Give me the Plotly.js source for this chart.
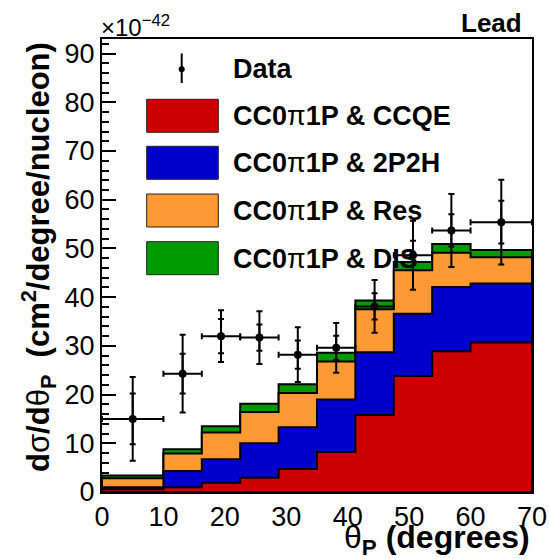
<!DOCTYPE html>
<html>
<head>
<meta charset="utf-8">
<script src="https://cdn.plot.ly/plotly-3.0.1.min.js"></script>
<style>
html,body{margin:0;padding:0;background:#fff;}
#chart{width:549px;height:559px;}
</style>
</head>
<body>
<div id="chart"></div>
<script>
// ---- data (units of 1e-42 cm^2/degree/nucleon) ----
const binEdges = [0, 10, 16.25, 22.5, 28.75, 35, 41.25, 47.5, 53.75, 60, 70];
const ccqe   = [0.55, 1.0, 1.9, 2.95, 4.7, 8.2, 15.8, 23.8, 28.9, 30.7];
const twoP2H = [0.45, 3.3, 4.8, 7.05, 8.6, 10.8, 12.9, 12.8, 13.2, 12.1];
const res    = [1.8, 3.6, 5.5, 6.4, 7.0, 7.8, 8.8, 8.9, 7.0, 5.4];
const dis    = [0.6, 0.9, 1.3, 1.7, 1.8, 1.8, 1.8, 1.7, 1.8, 1.5];
const dataY    = [15.0, 24.3, 32.0, 31.7, 28.2, 29.6, 38.1, 48.6, 53.7, 55.4];
const totalErr = [8.6, 8.0, 5.3, 5.4, 5.6, 5.1, 5.4, 7.1, 7.5, 8.7];
const statErr  = [5.2, 4.1, 3.5, 2.7, 2.9, 2.5, 2.7, 3.0, 3.3, 4.4];
const seriesNames = ["CC0π1P & CCQE", "CC0π1P & 2P2H", "CC0π1P & Res", "CC0π1P & DIS"];
const seriesColors = ["#cc0000", "#0000cc", "#ff9933", "#009900"];
const yTickVals = [0, 10, 20, 30, 40, 50, 60, 70, 80, 90];
const xTickVals = [0, 10, 20, 30, 40, 50, 60, 70];

// ---- derived ----
const nb = ccqe.length;
const centers = [], halfW = [];
for (let i = 0; i < nb; i++) {
  centers.push((binEdges[i] + binEdges[i + 1]) / 2);
  halfW.push((binEdges[i + 1] - binEdges[i]) / 2);
}
const layers = [ccqe, twoP2H, res, dis];
const cum = [];
let run = new Array(nb).fill(0);
layers.forEach(l => { run = run.map((v, i) => v + l[i]); cum.push(run.slice()); });

function stepTrace(vals, color) {
  const x = [binEdges[0], binEdges[0]], y = [0, vals[0]];
  for (let i = 1; i < nb; i++) { x.push(binEdges[i]); y.push(vals[i]); }
  x.push(binEdges[nb]); y.push(vals[nb - 1]);
  x.push(binEdges[nb]); y.push(0);
  x.push(binEdges[0]); y.push(0);
  return {
    type: 'scatter', mode: 'lines', x: x, y: y,
    line: {shape: 'hv', color: '#000', width: 2},
    fill: 'tozeroy', fillcolor: color,
    hoverinfo: 'skip', showlegend: false, cliponaxis: false
  };
}

const traces = [];
for (let k = layers.length - 1; k >= 0; k--) traces.push(stepTrace(cum[k], seriesColors[k]));

traces.push({
  type: 'scatter', mode: 'markers', x: centers, y: dataY,
  marker: {color: '#000', size: 8},
  error_y: {type: 'data', array: totalErr, visible: true, color: '#000', thickness: 2, width: 3},
  error_x: {type: 'data', array: halfW, visible: true, color: '#000', thickness: 2, width: 3},
  showlegend: false, hoverinfo: 'skip', cliponaxis: false
});
traces.push({
  type: 'scatter', mode: 'markers', x: centers, y: dataY,
  marker: {color: '#000', size: 1, opacity: 0},
  error_y: {type: 'data', array: statErr, visible: true, color: '#000', thickness: 2, width: 3},
  showlegend: false, hoverinfo: 'skip', cliponaxis: false
});

// ---- layout helpers ----
const L = 102, R = 532, T = 39, B = 492;
const px = x => (x - L) / (R - L);
const py = y => (B - y) / (B - T);
const FONT = 'Liberation Sans, Arial, Helvetica, sans-serif';

const shapes = [];
const annotations = [];

// legend: data marker
shapes.push({type: 'line', xref: 'paper', yref: 'paper', x0: px(181.7), x1: px(181.7), y0: py(53.5), y1: py(83), line: {color: '#000', width: 2}});
shapes.push({type: 'circle', xref: 'paper', yref: 'paper', x0: px(178.7), x1: px(184.7), y0: py(66.3), y1: py(72.3), fillcolor: '#000', line: {color: '#000', width: 0}});
annotations.push({xref: 'paper', yref: 'paper', x: px(231), y: py(69), xanchor: 'left', yanchor: 'middle', showarrow: false,
  text: '<b>Data</b>', font: {family: FONT, size: 27, color: '#000'}});
const boxTops = [99.3, 146.3, 194, 241.7];
for (let k = 0; k < 4; k++) {
  const t = boxTops[k];
  shapes.push({type: 'rect', xref: 'paper', yref: 'paper', x0: px(146.7), x1: px(218.3), y0: py(t + 33), y1: py(t),
    fillcolor: seriesColors[k], line: {color: '#222', width: 1}});
  const parts = seriesNames[k].split('π');
  annotations.push({xref: 'paper', yref: 'paper', x: px(231), y: py(t + 17), xanchor: 'left', yanchor: 'middle', showarrow: false,
    text: '<b>' + parts[0] + '</b>π<b>' + parts[1].replace('&', '&amp;') + '</b>', font: {family: FONT, size: 27, color: '#000'}});
}

// titles
annotations.push({xref: 'paper', yref: 'paper', x: px(524), y: py(23), xanchor: 'right', yanchor: 'middle', showarrow: false,
  text: '<b>Lead</b>', font: {family: FONT, size: 26, color: '#000'}});
annotations.push({xref: 'paper', yref: 'paper', x: px(99), y: py(26), xanchor: 'left', yanchor: 'middle', showarrow: false,
  text: '×10<sup>−42</sup>', font: {family: FONT, size: 24, color: '#000'}});
annotations.push({xref: 'paper', yref: 'paper', x: px(532), y: py(539), xanchor: 'right', yanchor: 'middle', showarrow: false,
  text: 'θ<sub><b>P</b></sub><b> (degrees)</b>', font: {family: FONT, size: 32, color: '#000'}});
annotations.push({xref: 'paper', yref: 'paper', x: px(38), y: py(257), xanchor: 'center', yanchor: 'middle', showarrow: false, textangle: -90,
  text: '<b>d</b>σ<b>/d</b>θ<sub><b>P</b></sub><b>  (cm</b><sup><b>2</b></sup><b>/degree/nucleon)</b>', font: {family: FONT, size: 31, color: '#000'}});

const axisCommon = {
  showgrid: false, zeroline: false, showline: true, linecolor: '#000', linewidth: 2, mirror: true,
  ticks: 'inside', ticklen: 14, tickwidth: 2, tickcolor: '#000',
  tickfont: {family: FONT, size: 27, color: '#000'},
  layer: 'below traces', fixedrange: true
};

const layout = {
  width: 549, height: 559,
  margin: {l: L, r: 549 - R, t: T, b: 559 - B, pad: 0},
  paper_bgcolor: '#fff', plot_bgcolor: '#fff',
  showlegend: false,
  xaxis: Object.assign({}, axisCommon, {range: [0, 70], tickvals: xTickVals, ticktext: xTickVals.map(String),
    minor: {dtick: 2, ticks: 'inside', ticklen: 7, tickwidth: 2, tickcolor: '#000'}}),
  yaxis: Object.assign({}, axisCommon, {range: [0, 93], tickvals: yTickVals, ticktext: yTickVals.map(String),
    minor: {dtick: 2, ticks: 'inside', ticklen: 7, tickwidth: 2, tickcolor: '#000'}}),
  shapes: shapes,
  annotations: annotations
};

Plotly.newPlot('chart', traces, layout, {displayModeBar: false, staticPlot: true});
</script>
</body>
</html>
